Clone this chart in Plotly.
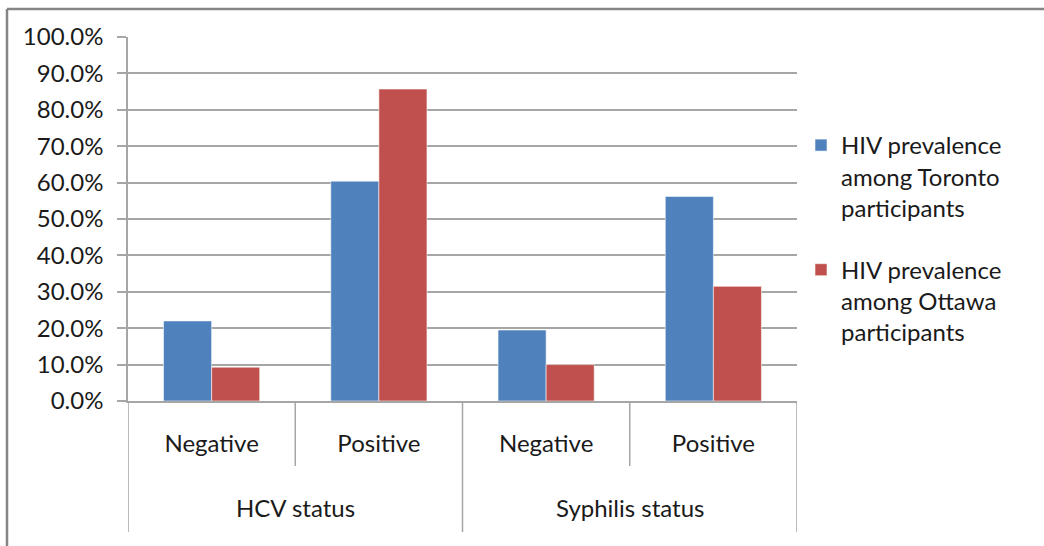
import plotly.graph_objects as go

# ---- data ----
groups = ["HCV status", "HCV status", "Syphilis status", "Syphilis status"]
subcats = ["Negative", "Positive", "Negative", "Positive"]
group_names = ["HCV status", "Syphilis status"]
toronto = [0.220, 0.604, 0.195, 0.562]
ottawa = [0.093, 0.857, 0.100, 0.315]
series_names = [
    "HIV prevalence<br>among Toronto<br>participants",
    "HIV prevalence<br>among Ottawa<br>participants",
]
colors = ["#4F81BD", "#C0504D"]
ytick_vals = [i / 10 for i in range(11)]

FONT = "Lato"
FS = 24
W, H = 1044, 546
L, R, T, B = 128, 247, 37, 145
PW, PH = W - L - R, H - T - B

def px_to_py(yp):
    return (H - B - yp) / PH

def px_to_px(xp):
    return (xp - L) / PW

xpos = list(range(len(subcats)))

fig = go.Figure()
for i, (vals, name) in enumerate(zip([toronto, ottawa], series_names)):
    fig.add_trace(go.Bar(
        x=xpos, y=vals, name=name,
        marker=dict(color=colors[i], line=dict(color="rgba(255,255,255,0.55)", width=1)),
        legendgroup=f"g{i}",
    ))

shapes = []
grid_col = "#A6A6A6"
# sub-category dividers (within groups)
for b in [0.5, 2.5]:
    shapes.append(dict(type="line", xref="x", yref="paper", x0=b, x1=b,
                       y0=0, y1=px_to_py(466), line=dict(color=grid_col, width=1.5)))
# group dividers
for b in [-0.5, 1.5, 3.5]:
    shapes.append(dict(type="line", xref="x", yref="paper", x0=b, x1=b,
                       y0=0, y1=px_to_py(532), line=dict(color=grid_col, width=1.5)))
# outer border (top and left visible)
bx = px_to_px(7)
by = px_to_py(9)
shapes.append(dict(type="line", xref="paper", yref="paper", x0=bx, x1=px_to_px(1060),
                   y0=by, y1=by, line=dict(color="#858585", width=2.5)))
shapes.append(dict(type="line", xref="paper", yref="paper", x0=bx, x1=bx,
                   y0=by, y1=px_to_py(560), line=dict(color="#858585", width=2.5)))

annotations = []
for gi, g in enumerate(group_names):
    idx = [k for k, gg in enumerate(groups) if gg == g]
    center = (idx[0] + idx[-1]) / 2
    annotations.append(dict(text=g, x=center, xref="x", y=px_to_py(507), yref="paper",
                            showarrow=False, xanchor="center", yanchor="middle",
                            font=dict(family=FONT, size=FS, color="#1a1a1a")))

fig.update_layout(
    width=W, height=H,
    margin=dict(l=L, r=R, t=T, b=B, pad=0),
    paper_bgcolor="white", plot_bgcolor="white",
    barmode="group", bargap=0.425, bargroupgap=0,
    font=dict(family=FONT, size=FS, color="#1a1a1a"),
    showlegend=True,
    legend=dict(x=px_to_px(801), y=px_to_py(123), xanchor="left", yanchor="top",
                font=dict(family=FONT, size=FS, color="#1a1a1a"),
                valign="top",
                tracegroupgap=28, itemwidth=30, bgcolor="rgba(0,0,0,0)"),
    shapes=shapes, annotations=annotations,
)
fig.update_xaxes(
    range=[-0.5, 3.5], tickmode="array", tickvals=xpos, ticktext=subcats,
    showline=True, linecolor=grid_col, linewidth=1.5, ticks="", showgrid=False,
    ticklabelstandoff=20, tickfont=dict(family=FONT, size=FS, color="#1a1a1a"),
    zeroline=False,
)
fig.update_yaxes(
    range=[0, 1], tickmode="array", tickvals=ytick_vals, tickformat=".1%",
    showgrid=True, gridcolor=grid_col, gridwidth=1.5,
    showline=True, linecolor=grid_col, linewidth=1.5,
    ticks="outside", ticklen=9, tickcolor=grid_col, tickwidth=1.5,
    ticklabelstandoff=9, tickfont=dict(family=FONT, size=FS, color="#1a1a1a"),
    zeroline=False,
)

fig.write_html("out.html")
